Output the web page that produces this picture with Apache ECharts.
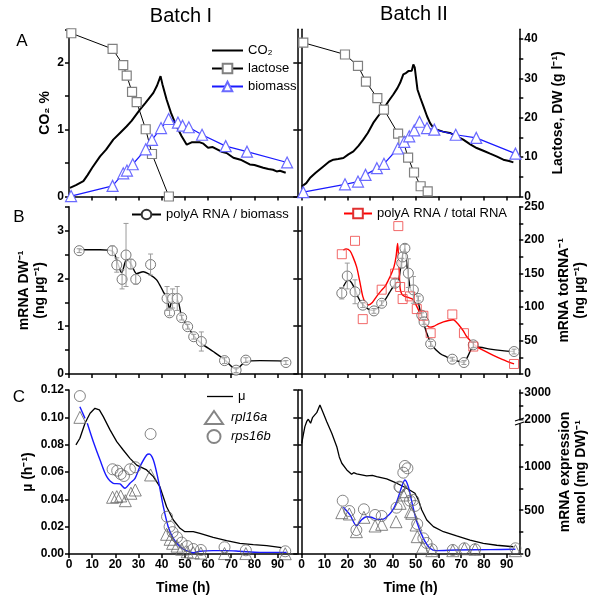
<!DOCTYPE html>
<html lang="en">
<head>
<meta charset="UTF-8">
<title>Batch I / Batch II</title>
<script src="https://cdn.jsdelivr.net/npm/echarts@6.0.0/dist/echarts.min.js"></script>
<style>html, body { margin: 0; padding: 0; background: #fff; }</style>
</head>
<body>
<div id="chart" style="width: 600px; height: 601px;"></div>
<script>
// ---- tick lists ----
const xTicks = [0, 10, 20, 30, 40, 50, 60, 70, 80, 90];
const co2Ticks = [0, 0.5, 1, 1.5, 2, 2.5];
const co2Labels = [0, 1, 2];
const dwTicks = [0, 5, 10, 15, 20, 25, 30, 35, 40];
const dwLabels = [0, 10, 20, 30, 40];
const mrnaTicks = [0, 0.5, 1, 1.5, 2, 2.5, 3, 3.5];
const mrnaLabels = [0, 1, 2, 3];
const totTicks = [0, 25, 50, 75, 100, 125, 150, 175, 200, 225, 250];
const totLabels = [0, 50, 100, 150, 200, 250];
const muTicks = [0, 0.02, 0.04, 0.06, 0.08, 0.1, 0.12];
const amolLowTicks = [0, 250, 500, 750, 1000, 1250];
const amolLowLabels = [0, 500, 1000];
const amolUpTicks = [2000, 2500, 3000];
const amolUpLabels = [2000, 3000];

// ---- panel A : CO2 (%), lactose and dry weight (g/l) vs time (h) ----
const co2Batch1 = [[0.4,0.13],[3,0.17],[6.2,0.23],[8,0.32],[10,0.43],[13.4,0.6],[16,0.7],[19.1,0.85],[22,0.95],[24.9,1.05],[27,1.13],[30.6,1.3],[33,1.4],[36.4,1.55],[38,1.66],[39.5,1.8],[40.3,1.68],[42.1,1.45],[44,1.25],[46.4,1.05],[48.6,0.9],[50.8,0.775],[52.9,0.81],[56.5,0.81],[58,0.79],[60,0.73],[62,0.74],[65.8,0.67],[68,0.65],[70.9,0.58],[74,0.55],[78,0.48],[80,0.47],[83.8,0.43],[86,0.41],[88,0.4],[89.6,0.375],[91,0.385],[93.5,0.355]];
const co2Batch2 = [[0,0.15],[2,0.2],[3.6,0.275],[6,0.35],[9.5,0.45],[12,0.52],[13.9,0.55],[16,0.56],[18.3,0.575],[20.5,0.63],[22.7,0.675],[25,0.76],[27,0.85],[29,0.95],[31.4,1.1],[33.5,1.2],[35.8,1.3],[38,1.42],[40.2,1.525],[42,1.62],[43.2,1.7],[44.6,1.825],[45.5,1.84],[46.8,1.875],[47.5,1.9],[48.3,1.88],[49,1.975],[49.6,1.93],[50.2,1.95],[50.8,1.6],[52,1.48],[53.4,1.35],[55,1.2],[56.3,1.1],[57.5,1.04],[59.3,1.0],[62,0.97],[65.1,0.95],[68,0.9],[70.9,0.85],[74,0.78],[76.8,0.725],[80,0.68],[82.7,0.64],[85.5,0.6],[88.5,0.55],[91,0.53],[92.9,0.51]];
const lactoseBatch1 = [[1,41.5],[18.8,37.5],[23.4,33.4],[24.9,30.7],[27.2,26.6],[29.2,24.0],[33.1,17.1],[35.8,10.8],[43.1,0]];
const biomassBatch1 = [[0.9,0.1],[18.8,2.7],[23.4,5.9],[25,6.6],[27.5,8.2],[33.1,12.0],[35.8,14.4],[39.7,17.4],[43,19.7],[47,18.8],[49,18.0],[51.7,17.6],[57.4,15.7],[67.6,12.8],[76.8,11.4],[94.1,8.65]];
const lactoseBatch2 = [[0.7,39.1],[19,36.1],[24.7,33.2],[28.2,29.2],[33.2,25.0],[36.1,22.1],[42.3,16.0],[44.6,14.0],[46.7,9.9],[49.3,6.1],[52.2,2.6],[55.3,1.3]];
const biomassBatch2 = [[0.7,1.1],[19,3.1],[24.7,3.8],[28,5.5],[33,7.2],[36.1,8.3],[42.2,12.2],[45,13.9],[47.2,15.3],[49.4,16.8],[51.7,19.0],[55,17.4],[58.2,17.0],[67.6,15.7],[76.6,14.9],[93.8,10.9]];

// ---- panel B : polyA RNA per biomass (ng/ug) and per total RNA (ng/ug) ----
const polyBio1 = [[4.4,2.58],[18.7,2.58],[20.6,2.28],[22.9,1.98],[24.6,2.49],[26.7,2.30],[28.8,1.98],[35.2,2.29],[42.3,1.58],[43.4,1.28],[44.7,1.58],[46.7,1.58],[48.6,1.18],[51.2,0.99],[53.8,0.78],[57.1,0.68],[67.1,0.28],[72.1,0.08],[76.3,0.29],[93.6,0.24]];
const polyBio1Err = [0.04,0.1,0.15,0.2,0.66,0.1,0.1,0.22,0.25,0.06,0.2,0.25,0.05,0.05,0.05,0.2,0.06,0.05,0.05,0.04];
const polyBio1Fit = [[4.4,2.6],[13.4,2.6],[18.7,2.57],[21.3,2.28],[22.7,2.12],[24.9,2.4],[27,2.28],[29.2,2.1],[32,2.14],[35.2,2.07],[37.8,1.97],[40.7,1.72],[42.3,1.58],[43.4,1.37],[44.7,1.55],[46.7,1.55],[48.6,1.2],[51.2,1.0],[53.8,0.8],[57.1,0.64],[62.2,0.47],[67.1,0.3],[72.1,0.1],[76.3,0.26],[82.4,0.28],[93.6,0.27]];
const polyBio2 = [[17.6,1.69],[20.0,2.05],[23.4,1.72],[26.8,1.44],[31.7,1.32],[35.1,1.48],[41,1.9],[43.9,2.32],[44.3,2.45],[45.3,2.63],[46.8,2.11],[49,1.76],[51.2,1.58],[52.7,1.23],[53.7,1.09],[56.6,0.63],[66.1,0.31],[71.2,0.24],[75.3,0.61],[93.2,0.47]];
const polyBio2Err = [0.12,0.27,0.25,0.05,0.05,0.05,0.08,0.1,0.1,0.08,0.3,0.28,0.05,0.05,0.05,0.05,0.04,0.04,0.06,0.05];
const polyBio2Fit = [[18.3,1.83],[20.5,1.97],[22,1.9],[23.4,1.76],[24.8,1.6],[26.3,1.48],[28,1.4],[30,1.34],[31.6,1.33],[33.2,1.37],[35,1.46],[36.6,1.55],[38.5,1.7],[40.2,1.83],[42.4,1.95],[43.2,2.15],[43.9,2.4],[44.6,2.55],[45.3,2.62],[45.8,2.45],[46.4,2.18],[47.1,1.95],[47.8,1.76],[49,1.72],[50.2,1.69],[51.2,1.5],[51.9,1.34],[53.4,1.08],[54.9,0.85],[57.1,0.61],[60.7,0.43],[63.5,0.36],[66.1,0.31],[68.5,0.27],[71.2,0.24],[73,0.38],[75.3,0.56],[78,0.56],[82.7,0.52],[88,0.49],[93.2,0.47]];
const polyTot2 = [[17.6,179],[23.4,199],[26.8,82],[35.1,126],[41,150],[42.4,221],[43.2,130],[44.3,112],[47.5,116],[50.5,97],[53.4,87],[56.6,61],[66.1,89],[71.2,61],[75.3,41],[93.2,15]];
const polyTot2Fit = [[18.3,185],[19.5,187],[21.2,184],[22.5,175],[24.1,160],[25.5,138],[26.8,116],[28,106],[29.2,103],[31,107],[32.9,116],[35,125],[36.6,131],[38,140],[39.5,151],[40.5,160],[41.4,175],[42.1,195],[42.5,175],[42.8,155],[43.2,128],[44,119],[45.3,116],[47,114],[49,111],[50.5,101],[51.9,91],[53.4,80],[54.9,73],[56.3,70],[57.8,71],[60,75],[62.2,78],[64.5,80],[66.5,81],[68,77],[69.5,71],[71,64],[72.4,56],[74.5,48],[76.8,41],[80,35],[84.1,28],[88,22],[93.2,15]];

// ---- panel C : growth rate mu (1/h) and mRNA expression (amol / mg DW) ----
const muBatch1 = [[3,0.0798],[4.7,0.0847],[6.9,0.0957],[9.1,0.103],[11.2,0.1066],[13.1,0.1055],[14.8,0.1005],[17.7,0.0908],[20.6,0.0822],[23.4,0.0761],[26.3,0.07],[29.2,0.065],[33.5,0.0615],[36.4,0.0566],[39.2,0.0493],[42.1,0.0346],[45,0.0249],[47.9,0.0188],[50,0.0163],[53.6,0.0163],[56.5,0.0151],[62.2,0.0122],[68,0.0098],[73.7,0.0078],[79.5,0.0068],[85.3,0.0061],[91.7,0.0046]];
const rps16b1 = [[4.7,2873],[18.8,968],[20.8,952],[22.3,914],[23.7,891],[26.3,968],[28.6,991],[35.2,1371],[42.3,426],[43.4,312],[44.7,250],[46.6,191],[48.6,130],[51,91],[53.6,57],[56.9,46],[67.1,77],[76.3,42],[93.3,31]];
const rpl16a1 = [[4.7,2075],[18.8,648],[20.6,655],[22.3,663],[24.3,609],[26.7,694],[28.6,731],[35.2,903],[42.1,225],[43.6,168],[44.7,122],[46.6,90],[48.6,55],[51,25],[53.6,15],[56.9,10],[67.1,5],[76.3,5],[93.3,3]];
const exprFit1 = [[4.7,2472],[6.9,2037],[7.9,1494],[10.5,1283],[13.4,1074],[16.3,883],[19.1,808],[22,800],[24.1,751],[26.3,808],[28.5,865],[30.6,998],[33.5,1131],[34.6,1143],[36.4,1074],[38.5,846],[40.7,541],[42.8,312],[45,179],[47.9,83],[50.6,38],[53.6,15],[56.5,31],[62.2,38],[68,38],[73.7,31],[82.4,19],[93.9,19]];
const muBatch2 = [[0,0.081],[0.8,0.088],[1.4,0.0932],[2.2,0.097],[2.9,0.0986],[3.9,0.0957],[4.8,0.1],[5.5,0.099],[6.6,0.1034],[8,0.109],[9.5,0.103],[11,0.0968],[13.2,0.0883],[15.4,0.0785],[16.5,0.071],[17.6,0.0664],[19.8,0.0615],[21.9,0.0583],[22.8,0.0595],[24.1,0.0586],[28.5,0.0571],[31,0.0575],[32.9,0.0566],[37.3,0.0549],[41.7,0.0518],[46.1,0.0481],[49.7,0.0444],[51.2,0.0395],[52.7,0.0322],[54.9,0.0249],[57.8,0.02],[62.2,0.0163],[68,0.0132],[73.9,0.0102],[79.7,0.0078],[85.6,0.0064],[92.9,0.0053]];
const rps16b2 = [[18,609],[20.9,491],[24,274],[27.3,511],[32.2,446],[35.1,434],[41.6,529],[42.9,769],[43.2,762],[44.6,929],[45.3,1006],[46.4,979],[47.5,609],[49,617],[49.7,549],[50.7,343],[53.4,179],[54.8,126],[57.1,54],[66.3,46],[71.4,65],[76.1,54],[93.8,65]];
const rpl16a2 = [[17.6,472],[20.9,457],[24,255],[27.3,419],[32.2,320],[35.1,339],[41.4,369],[43.2,579],[44.6,674],[45.8,712],[47.8,483],[48.3,465],[50.2,331],[50.7,198],[53.1,77],[57.1,38],[66.3,38],[71.4,60],[76.1,54],[93.8,38]];
const exprFit2 = [[18.3,534],[21.2,446],[24.1,324],[26.2,389],[28.5,426],[30.5,420],[32.9,396],[35,395],[36.6,408],[39.5,483],[41.7,598],[43.9,769],[45.3,846],[46.8,769],[48.3,598],[50.5,369],[53.4,179],[56.3,65],[59.3,38],[68,46],[82.7,50],[93.8,54]];

// broken amol axis: lower part and upper part
const amolLowMax = 1508, amolUpMin = 1900, amolUpMax = 3100;
const low = arr => arr.filter(d => d[1] <= amolLowMax);
const high = arr => arr.filter(d => d[1] >= amolUpMin);

const F = '"Liberation Sans", Arial, sans-serif';
const axLine = { color: '#000', width: 1.5 };
const nameStyle = { color: '#000', fontFamily: F, fontWeight: 'bold', fontSize: 14, lineHeight: 16 };
const legendText = { fontFamily: F, fontSize: 13, color: '#000' };
const Lmax = 98.5, Rmax = 95.5;
const plain = v => String(v);

function xAx(gridIndex, max, withLabels) {
  return {
    type: 'value', gridIndex, min: 0, max, position: 'bottom',
    splitLine: { show: false },
    axisLine: { show: true, onZero: false, lineStyle: axLine },
    axisTick: { show: true, length: 4, customValues: xTicks, lineStyle: axLine },
    axisLabel: { show: withLabels, customValues: xTicks, margin: 5, color: '#000', fontFamily: F, fontWeight: 'bold', fontSize: 12 },
    name: withLabels ? 'Time (h)' : '', nameLocation: 'middle', nameGap: 26, nameTextStyle: nameStyle
  };
}
function yAx(gridIndex, position, min, max, ticks, labels, opt) {
  opt = opt || {};
  return {
    type: 'value', gridIndex, position, min, max,
    splitLine: { show: false },
    axisLine: { show: true, onZero: false, lineStyle: axLine },
    axisTick: { show: true, inside: !!opt.inside, length: 4, customValues: ticks, lineStyle: axLine },
    axisLabel: { show: !!labels, customValues: labels || ticks, margin: 5, color: '#000', fontFamily: F, fontWeight: 'bold', fontSize: 12, formatter: opt.fmt || plain },
    name: opt.name || '', nameLocation: 'middle', nameRotate: 90, nameGap: opt.gap || 20, nameTextStyle: nameStyle
  };
}
function hiddenAx(gridIndex, min, max) {
  return { type: 'value', gridIndex, min, max, show: false };
}
function g(left, top, width, height) {
  return { left, top, width, height, outerBoundsMode: 'none', containLabel: false };
}

// error bars drawn through the axes' coord system
function errorBars(xi, yi, pts, errs) {
  return {
    type: 'custom', xAxisIndex: xi, yAxisIndex: yi, silent: true, z: 6,
    data: pts.map((p, i) => [p[0], p[1] - errs[i], p[1] + errs[i]]),
    renderItem: function (params, api) {
      const lo = api.coord([api.value(0), api.value(1)]);
      const hi = api.coord([api.value(0), api.value(2)]);
      const st = { stroke: '#9a9a9a', lineWidth: 1 };
      return {
        type: 'group', children: [
          { type: 'line', shape: { x1: lo[0], y1: lo[1], x2: hi[0], y2: hi[1] }, style: st },
          { type: 'line', shape: { x1: lo[0] - 2.5, y1: lo[1], x2: lo[0] + 2.5, y2: lo[1] }, style: st },
          { type: 'line', shape: { x1: hi[0] - 2.5, y1: hi[1], x2: hi[0] + 2.5, y2: hi[1] }, style: st }
        ]
      };
    }
  };
}

const blue = '#1a1aff';
const triBlue = '#6a6aff';
const grayEdge = '#666';

function co2Series(xi, yi, data) {
  return { name: 'CO₂', type: 'line', xAxisIndex: xi, yAxisIndex: yi, data, symbol: 'none', lineStyle: { color: '#000', width: 2 }, itemStyle: { color: '#000' }, z: 3 };
}
function lactoseSeries(xi, yi, data) {
  return { name: 'lactose', type: 'line', xAxisIndex: xi, yAxisIndex: yi, data, symbol: 'rect', symbolSize: 9, lineStyle: { color: '#000', width: 1 }, itemStyle: { color: '#fff', borderColor: '#808080', borderWidth: 1.2 }, z: 4 };
}
function biomassSeries(xi, yi, data) {
  return { name: 'biomass', type: 'line', xAxisIndex: xi, yAxisIndex: yi, data, symbol: 'triangle', symbolSize: 11, lineStyle: { color: blue, width: 1.2 }, itemStyle: { color: '#fff', borderColor: triBlue, borderWidth: 1.2 }, z: 4 };
}
function fitLine(name, xi, yi, data, color, legendSymbol, edge) {
  return { name, type: 'line', xAxisIndex: xi, yAxisIndex: yi, data, smooth: 0.3, showSymbol: false, symbol: legendSymbol || 'none', symbolSize: 10,
    lineStyle: { color, width: 1.4 }, itemStyle: { color: '#fff', borderColor: edge || color, borderWidth: 1.2 }, z: 3 };
}
function dots(name, xi, yi, data, symbol, size, fill, edge) {
  return { name, type: 'scatter', xAxisIndex: xi, yAxisIndex: yi, data, symbol, symbolSize: size,
    itemStyle: { color: fill, borderColor: edge, borderWidth: 1 }, z: 5 };
}

const myChart = echarts.init(document.getElementById('chart'));

const option = {
  animation: false,
  backgroundColor: '#fff',
  grid: [
    g(69, 29.3, 228.3, 167.2),    // 0 A batch I
    g(301.7, 29.3, 217.6, 167.2), // 1 A batch II
    g(69, 206.7, 228.3, 167.3),   // 2 B batch I
    g(301.7, 206.7, 217.6, 167.3),// 3 B batch II
    g(69, 390, 228.3, 164),       // 4 C batch I (mu)
    g(301.7, 390, 217.6, 164),    // 5 C batch II (mu)
    g(69, 422, 228.3, 132),       // 6 C batch I amol lower
    g(69, 390, 228.3, 32),        // 7 C batch I amol upper
    g(301.7, 422, 217.6, 132),    // 8 C batch II amol lower
    g(301.7, 390, 217.6, 32)      // 9 C batch II amol upper
  ],
  xAxis: [
    xAx(0, Lmax, false), xAx(1, Rmax, false),
    xAx(2, Lmax, false), xAx(3, Rmax, false),
    xAx(4, Lmax, true), xAx(5, Rmax, true),
    hiddenAx(6, 0, Lmax), hiddenAx(7, 0, Lmax),
    hiddenAx(8, 0, Rmax), hiddenAx(9, 0, Rmax)
  ],
  yAxis: [
    yAx(0, 'left', 0, 2.5, co2Ticks, co2Labels, { name: 'CO₂ %', gap: 16 }),          // 0
    yAx(0, 'right', 0, 2.5, co2Labels, null, { inside: true }),                        // 1
    hiddenAx(0, 0, 42.5),                                                              // 2
    yAx(1, 'left', 0, 2.5, co2Labels, null),                                           // 3
    yAx(1, 'right', 0, 42.5, dwTicks, dwLabels, { name: 'Lactose, DW (g l⁻¹)', gap: 31 }), // 4
    yAx(2, 'left', 0, 3.5, mrnaTicks, mrnaLabels, { name: 'mRNA DW⁻¹\n(ng µg⁻¹)', gap: 21 }), // 5
    yAx(2, 'right', 0, 3.5, mrnaLabels, null, { inside: true }),                       // 6
    yAx(3, 'left', 0, 3.5, mrnaLabels, null),                                          // 7
    yAx(3, 'right', 0, 250, totTicks, totLabels, { name: 'mRNA totRNA⁻¹\n(ng µg⁻¹)', gap: 37 }), // 8
    yAx(4, 'left', 0, 0.12, muTicks, muTicks, { name: 'µ (h⁻¹)', gap: 33, fmt: v => v.toFixed(2) }), // 9
    yAx(4, 'right', 0, 0.12, muTicks, null, { inside: true }),                         // 10
    yAx(5, 'left', 0, 0.12, muTicks, null),                                            // 11
    { type: 'value', gridIndex: 5, position: 'right', min: 0, max: 1,                  // 12 (name only)
      axisLine: { show: false }, axisTick: { show: false }, axisLabel: { show: false }, splitLine: { show: false },
      name: 'mRNA expression\namol (mg DW)⁻¹', nameLocation: 'middle', nameRotate: 90, nameGap: 38, nameTextStyle: nameStyle },
    hiddenAx(6, 0, amolLowMax),                                                        // 13
    hiddenAx(7, amolUpMin, amolUpMax),                                                 // 14
    yAx(8, 'right', 0, amolLowMax, amolLowTicks, amolLowLabels),                      // 15
    yAx(9, 'right', amolUpMin, amolUpMax, amolUpTicks, amolUpLabels)                  // 16
  ],
  legend: [
    { left: 211, top: 44, padding: 0, orient: 'vertical', itemWidth: 31, itemHeight: 12, itemGap: 5, selectedMode: false,
      data: [{ name: 'CO₂', icon: 'path://M0,0H31V2H0Z' }, 'lactose', 'biomass'], textStyle: legendText },
    { left: 131, top: 208, padding: 0, itemWidth: 29, itemHeight: 12, selectedMode: false,
      data: ['polyA RNA / biomass'], textStyle: legendText },
    { left: 343, top: 207, padding: 0, itemWidth: 28, itemHeight: 12, selectedMode: false,
      data: ['polyA RNA / total RNA'], textStyle: legendText },
    { left: 207, top: 390, padding: 0, itemWidth: 26, itemHeight: 12, selectedMode: false,
      data: [{ name: 'μ', icon: 'path://M0,0H26V1.3H0Z' }], textStyle: legendText },
    { left: 204, top: 410, padding: 0, orient: 'vertical', itemWidth: 18, itemHeight: 13, itemGap: 4, selectedMode: false,
      data: ['rpl16a', 'rps16b'], textStyle: Object.assign({}, legendText, { fontStyle: 'italic', padding: [0, 0, 0, 3] }) }
  ],
  graphic: [
    { type: 'text', x: 181, y: 16, style: { text: 'Batch I', font: '20px ' + F, fill: '#000', align: 'center', verticalAlign: 'middle', textAlign: 'center', textVerticalAlign: 'middle' } },
    { type: 'text', x: 414, y: 14, style: { text: 'Batch II', font: '20px ' + F, fill: '#000', align: 'center', verticalAlign: 'middle', textAlign: 'center', textVerticalAlign: 'middle' } },
    { type: 'text', x: 22, y: 41, style: { text: 'A', font: '17px ' + F, fill: '#000', align: 'center', verticalAlign: 'middle', textAlign: 'center', textVerticalAlign: 'middle' } },
    { type: 'text', x: 19, y: 217, style: { text: 'B', font: '17px ' + F, fill: '#000', align: 'center', verticalAlign: 'middle', textAlign: 'center', textVerticalAlign: 'middle' } },
    { type: 'text', x: 19, y: 397, style: { text: 'C', font: '17px ' + F, fill: '#000', align: 'center', verticalAlign: 'middle', textAlign: 'center', textVerticalAlign: 'middle' } },
    // axis break mark on the amol axis
    { type: 'rect', shape: { x: 515, y: 420.5, width: 9, height: 3 }, style: { fill: '#fff' }, z: 100 },
    { type: 'line', shape: { x1: 515, y1: 421, x2: 524, y2: 418 }, style: { stroke: '#000', lineWidth: 1.2 }, z: 101 },
    { type: 'line', shape: { x1: 515, y1: 425, x2: 524, y2: 422 }, style: { stroke: '#000', lineWidth: 1.2 }, z: 101 }
  ],
  series: [
    // A
    co2Series(0, 0, co2Batch1),
    lactoseSeries(0, 2, lactoseBatch1),
    biomassSeries(0, 2, biomassBatch1),
    co2Series(1, 3, co2Batch2),
    lactoseSeries(1, 4, lactoseBatch2),
    biomassSeries(1, 4, biomassBatch2),
    // B batch I
    fitLine('polyA RNA / biomass', 2, 5, polyBio1Fit, '#000', 'circle', '#333'),
    dots('', 2, 5, polyBio1, 'circle', 10, '#fff', '#555'),
    errorBars(2, 5, polyBio1, polyBio1Err),
    // B batch II
    fitLine('polyA RNA / biomass', 3, 7, polyBio2Fit, '#000', 'circle', '#333'),
    fitLine('polyA RNA / total RNA', 3, 8, polyTot2Fit, '#ff0000', 'rect', '#e03030'),
    dots('', 3, 7, polyBio2, 'circle', 10, '#fff', '#555'),
    errorBars(3, 7, polyBio2, polyBio2Err),
    dots('', 3, 8, polyTot2, 'rect', 9, 'transparent', '#ee4444'),
    // C batch I
    { name: 'μ', type: 'line', xAxisIndex: 4, yAxisIndex: 9, data: muBatch1, symbol: 'none', lineStyle: { color: '#000', width: 1.3 }, itemStyle: { color: '#000' }, z: 3 },
    dots('rpl16a', 6, 13, low(rpl16a1), 'triangle', 12, 'transparent', grayEdge),
    dots('rps16b', 6, 13, low(rps16b1), 'circle', 11, 'transparent', grayEdge),
    dots('rpl16a', 7, 14, high(rpl16a1), 'triangle', 12, 'transparent', grayEdge),
    dots('rps16b', 7, 14, high(rps16b1), 'circle', 11, 'transparent', grayEdge),
    fitLine('', 6, 13, low(exprFit1), blue),
    fitLine('', 7, 14, high(exprFit1), blue),
    // C batch II
    { name: 'μ', type: 'line', xAxisIndex: 5, yAxisIndex: 11, data: muBatch2, symbol: 'none', lineStyle: { color: '#000', width: 1.3 }, itemStyle: { color: '#000' }, z: 3 },
    dots('rpl16a', 8, 15, rpl16a2, 'triangle', 12, 'transparent', grayEdge),
    dots('rps16b', 8, 15, rps16b2, 'circle', 11, 'transparent', grayEdge),
    fitLine('', 8, 15, exprFit2, blue)
  ]
};

myChart.setOption(option);
</script>
</body>
</html>
